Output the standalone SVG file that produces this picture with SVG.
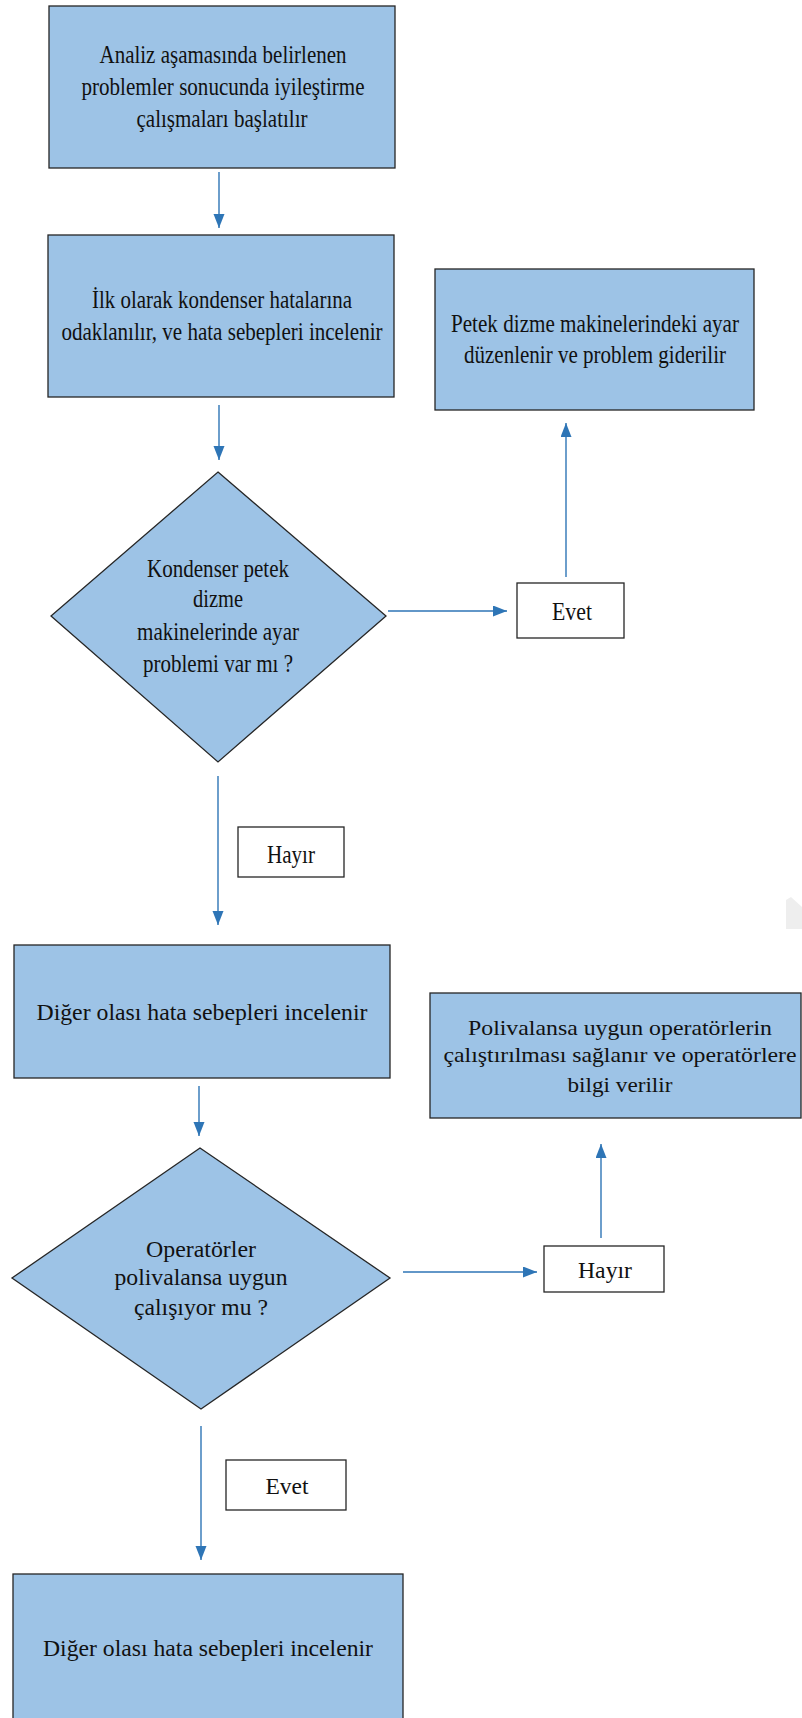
<svg xmlns="http://www.w3.org/2000/svg" width="802" height="1718" viewBox="0 0 802 1718">
  <style>
    .node { fill: #9dc3e6; stroke: #262626; stroke-width: 1.3; }
    .label { fill: #ffffff; stroke: #262626; stroke-width: 1.3; }
    .txt { font-family: "Liberation Serif", "Times New Roman", serif; fill: #111111; text-anchor: middle; }
    .big { font-size: 26px; }
    .mid { font-size: 24px; }
    .small { font-size: 21px; }
    .tall { font-size: 21.5px; }
    .conn { stroke: #2e75b6; stroke-width: 1.4; fill: none; marker-end: url(#arrow); }
  </style>
  <defs>
    <marker id="arrow" markerUnits="userSpaceOnUse" markerWidth="15" markerHeight="12" refX="14" refY="5.5" orient="auto">
      <path d="M0,0 L14,5.5 L0,11 z" fill="#2e75b6"/>
    </marker>
  </defs>

  <rect width="802" height="1718" fill="#ffffff"/>

  <!-- faint page corner at the right edge -->
  <polygon points="786,900 791,897 802,907 802,929 786,929" fill="#eeeeee"/>

  <g id="connectors">
    <line class="conn" x1="219" y1="172" x2="219" y2="228"/>
    <line class="conn" x1="219" y1="405" x2="219" y2="460"/>
    <line class="conn" x1="388" y1="611" x2="507" y2="611"/>
    <line class="conn" x1="566" y1="577" x2="566" y2="423"/>
    <line class="conn" x1="218" y1="776" x2="218" y2="925"/>
    <line class="conn" x1="199" y1="1086" x2="199" y2="1136"/>
    <line class="conn" x1="403" y1="1272" x2="537" y2="1272"/>
    <line class="conn" x1="601" y1="1238" x2="601" y2="1144"/>
    <line class="conn" x1="201" y1="1426" x2="201" y2="1560"/>
  </g>

  <g id="start">
    <rect class="node" x="49" y="6" width="346" height="162"/>
    <text class="txt big" x="223" y="63" textLength="247" lengthAdjust="spacingAndGlyphs">Analiz aşamasında belirlenen</text>
    <text class="txt big" x="223" y="95" textLength="283" lengthAdjust="spacingAndGlyphs">problemler sonucunda iyileştirme</text>
    <text class="txt big" x="222" y="127" textLength="171" lengthAdjust="spacingAndGlyphs">çalışmaları başlatılır</text>
  </g>

  <g id="focus-condenser">
    <rect class="node" x="48" y="235" width="346" height="162"/>
    <text class="txt big" x="222" y="308" textLength="260" lengthAdjust="spacingAndGlyphs">İlk olarak kondenser hatalarına</text>
    <text class="txt big" x="222" y="340" textLength="321" lengthAdjust="spacingAndGlyphs">odaklanılır, ve hata sebepleri incelenir</text>
  </g>

  <g id="fix-settings">
    <rect class="node" x="435" y="269" width="319" height="141"/>
    <!-- text drawn at 21.5px and stretched vertically for the tall, narrow look -->
    <g transform="scale(1,1.2)">
      <text class="txt tall" x="595" y="276.7" textLength="288" lengthAdjust="spacingAndGlyphs">Petek dizme makinelerindeki ayar</text>
      <text class="txt tall" x="595" y="302.5" textLength="262" lengthAdjust="spacingAndGlyphs">düzenlenir ve problem giderilir</text>
    </g>
  </g>

  <g id="decision-settings">
    <polygon class="node" points="218,472 386,616 218,762 51,616"/>
    <text class="txt big" x="218" y="577" textLength="142" lengthAdjust="spacingAndGlyphs">Kondenser petek</text>
    <text class="txt big" x="218" y="607" textLength="50" lengthAdjust="spacingAndGlyphs">dizme</text>
    <text class="txt big" x="218" y="640" textLength="162" lengthAdjust="spacingAndGlyphs">makinelerinde ayar</text>
    <text class="txt big" x="218" y="672" textLength="150" lengthAdjust="spacingAndGlyphs">problemi var mı ?</text>
  </g>

  <g id="label-evet-1">
    <rect class="label" x="517" y="583" width="107" height="55"/>
    <text class="txt big" x="572" y="620" textLength="40" lengthAdjust="spacingAndGlyphs">Evet</text>
  </g>

  <g id="label-hayir-1">
    <rect class="label" x="238" y="827" width="106" height="50"/>
    <text class="txt big" x="291" y="863" textLength="48" lengthAdjust="spacingAndGlyphs">Hayır</text>
  </g>

  <g id="other-causes-1">
    <rect class="node" x="14" y="945" width="376" height="133"/>
    <text class="txt mid" x="202" y="1020" textLength="331" lengthAdjust="spacingAndGlyphs">Diğer olası hata sebepleri incelenir</text>
  </g>

  <g id="decision-operators">
    <polygon class="node" points="200,1148 390,1278 201,1409 12,1278"/>
    <text class="txt mid" x="201" y="1257" textLength="110" lengthAdjust="spacingAndGlyphs">Operatörler</text>
    <text class="txt mid" x="201" y="1285" textLength="173" lengthAdjust="spacingAndGlyphs">polivalansa uygun</text>
    <text class="txt mid" x="201" y="1315" textLength="134" lengthAdjust="spacingAndGlyphs">çalışıyor mu ?</text>
  </g>

  <g id="label-hayir-2">
    <rect class="label" x="544" y="1246" width="120" height="46"/>
    <text class="txt mid" x="605" y="1278" textLength="54" lengthAdjust="spacingAndGlyphs">Hayır</text>
  </g>

  <g id="assign-operators">
    <rect class="node" x="430" y="993" width="371" height="125"/>
    <text class="txt small" x="620" y="1035" textLength="304" lengthAdjust="spacingAndGlyphs">Polivalansa uygun operatörlerin</text>
    <text class="txt small" x="620" y="1062" textLength="353" lengthAdjust="spacingAndGlyphs">çalıştırılması sağlanır ve operatörlere</text>
    <text class="txt small" x="620" y="1092" textLength="105" lengthAdjust="spacingAndGlyphs">bilgi verilir</text>
  </g>

  <g id="label-evet-2">
    <rect class="label" x="226" y="1460" width="120" height="50"/>
    <text class="txt mid" x="287" y="1494" textLength="43" lengthAdjust="spacingAndGlyphs">Evet</text>
  </g>

  <g id="other-causes-2">
    <rect class="node" x="13" y="1574" width="390" height="150"/>
    <text class="txt mid" x="208" y="1656" textLength="330" lengthAdjust="spacingAndGlyphs">Diğer olası hata sebepleri incelenir</text>
  </g>
</svg>
